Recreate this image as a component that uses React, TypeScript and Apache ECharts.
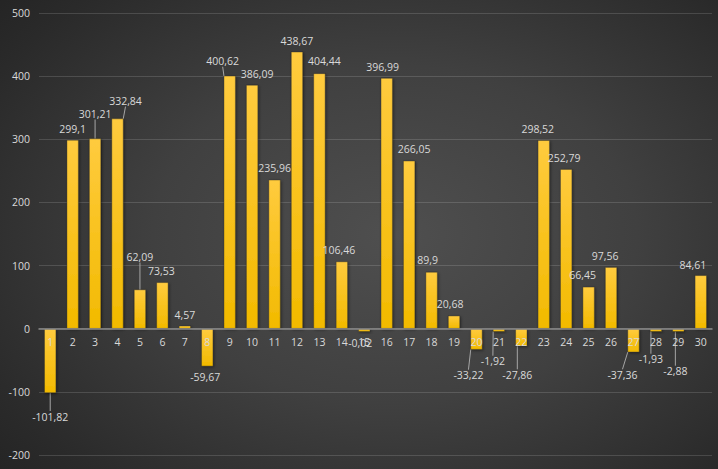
import React, { useEffect, useRef } from "react";
import * as echarts from "echarts";

const categories = Array.from({ length: 30 }, (_, i) => String(i + 1));
const values = [
  -101.82, 299.1, 301.21, 332.84, 62.09, 73.53, 4.57, -59.67, 400.62, 386.09,
  235.96, 438.67, 404.44, 106.46, -0.02, 396.99, 266.05, 89.9, 20.68, -33.22,
  -1.92, -27.86, 298.52, 252.79, 66.45, 97.56, -37.36, -1.93, -2.88, 84.61,
];
const yTicks = { min: -200, max: 500, interval: 100 };

// label nudges (px) and whether a leader line is drawn
const labelShift: [number, number, boolean][] = [
  [0, 13, true], [0, 0, false], [0, -14, true], [8, -7, true], [0, -22, true],
  [-1, -1, false], [0, 0, false], [-2, 0, false], [-7, -4, true], [5, 0, false],
  [0, -1, false], [0, 0, false], [5, -2, false], [-3, -1, false], [-4, 1, false],
  [-4, -1, false], [5, -1, false], [-4, -1, false], [-4, -1, false], [-8, 15, true],
  [-6, 19, true], [-4, 18, true], [-6, -1, false], [-2, -1, false], [-6, -1, false],
  [-6, -1, false], [-11, 12, true], [-5, 17, true], [-3, 29, true], [-8, 0, false],
];

const fmt = (v: number) => String(v).replace(".", ",");

const GRID_TOP = 13;
const GRID_BOTTOM = 14;
const HEIGHT = 469;

export default function App() {
  const ref = useRef<HTMLDivElement>(null);
  useEffect(() => {
    if (!ref.current) return;
    const chart = echarts.init(ref.current, undefined, { renderer: "svg" });
    const textColor = "#d9d9d9";
    const font = "'Open Sans', 'Noto Sans', sans-serif";
    const plotH = HEIGHT - GRID_TOP - GRID_BOTTOM;
    const zeroFromBottom = (plotH * (0 - yTicks.min)) / (yTicks.max - yTicks.min);
    chart.setOption({
      animation: false,
      backgroundColor: "transparent",
      grid: {
        left: 39,
        right: 6,
        top: GRID_TOP,
        bottom: GRID_BOTTOM,
        containLabel: false,
        outerBoundsMode: "none",
      },
      xAxis: {
        type: "category",
        data: categories,
        offset: -zeroFromBottom,
        axisLine: { onZero: false, lineStyle: { color: "#8a8a8a", width: 1.5 } },
        axisTick: { show: false },
        axisLabel: { color: textColor, fontSize: 10.5, fontFamily: font, margin: 8, interval: 0 },
        z: 10,
      },
      yAxis: {
        type: "value",
        min: yTicks.min,
        max: yTicks.max,
        interval: yTicks.interval,
        axisLine: { show: false },
        axisTick: { show: false },
        axisLabel: { color: textColor, fontSize: 10.5, fontFamily: font, margin: 9 },
        splitLine: { lineStyle: { color: "rgba(255,255,255,0.14)", width: 1 } },
      },
      series: [
        {
          type: "bar",
          barWidth: 12,
          barMinHeight: 3,
          data: values.map((v, i) => ({
            value: v,
            label: { position: v < 0 ? "bottom" : "top" },
            labelLine: { show: labelShift[i][2] },
          })),
          itemStyle: {
            color: new echarts.graphic.LinearGradient(0, 0, 0, 1, [
              { offset: 0, color: "#FFCB3E" },
              { offset: 1, color: "#F2BA00" },
            ]),
            borderColor: "rgba(40,40,40,0.6)",
            borderWidth: 0.6,
            shadowColor: "rgba(0,0,0,0.45)",
            shadowBlur: 3,
            shadowOffsetX: 1,
            shadowOffsetY: 1,
          },
          label: {
            show: true,
            color: textColor,
            fontSize: 10.5,
            fontFamily: font,
            distance: 5,
            formatter: (p: any) => fmt(p.value),
          },
          labelLine: { show: false, lineStyle: { color: "#a6a6a6", width: 1 } },
          labelLayout: (p: any) => ({
            dx: labelShift[p.dataIndex][0],
            dy: labelShift[p.dataIndex][1],
          }),
        },
      ],
    });
    return () => chart.dispose();
  }, []);
  return (
    <div
      style={{
        position: "absolute",
        left: 0,
        top: 0,
        width: 718,
        height: 469,
        background:
          "radial-gradient(ellipse 75% 80% at 55% 50%, #4f4f4f 0%, #404040 45%, #2a2a2a 85%, #232323 100%)",
      }}
    >
      <div ref={ref} style={{ width: 718, height: 469 }} />
    </div>
  );
}
